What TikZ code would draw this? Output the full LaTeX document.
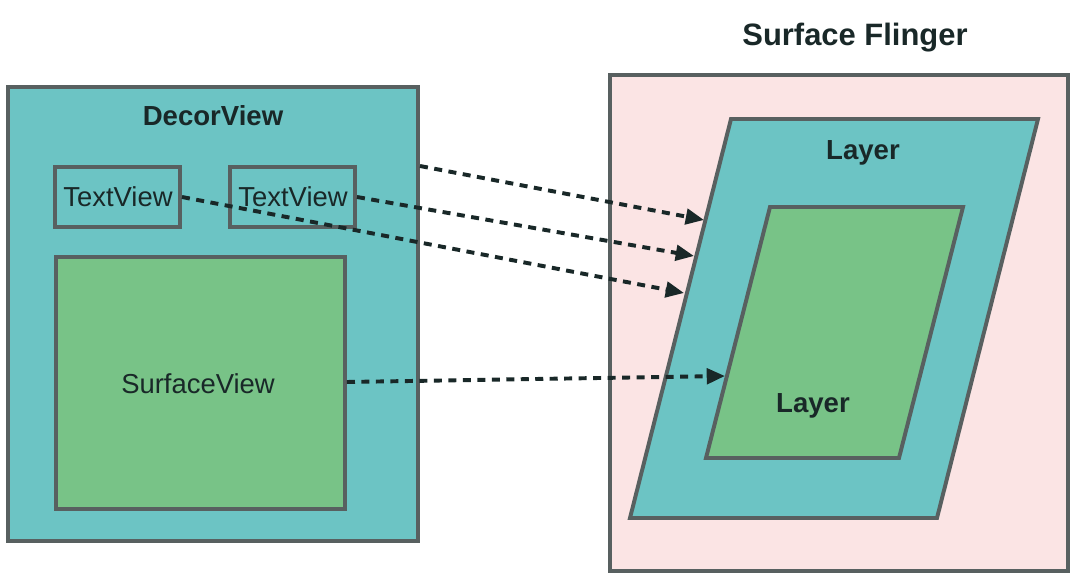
\documentclass[tikz,border=0pt]{standalone}
\usepackage{fontspec}
\setmainfont{Liberation Sans}
\usetikzlibrary{arrows.meta,fit}
\definecolor{teal1}{RGB}{108,196,196}
\definecolor{green1}{RGB}{120,195,135}
\definecolor{edge1}{RGB}{88,96,96}
\definecolor{pink1}{RGB}{251,228,228}
\definecolor{ink}{RGB}{25,40,40}
\tikzset{
  boxbase/.style={draw=edge1, line width=2.8pt, inner sep=0pt, text=ink},
  tealbox/.style={boxbase, fill=teal1},
  greenbox/.style={boxbase, fill=green1},
  pinkbox/.style={boxbase, fill=pink1},
  plain/.style={text=ink, font=\fontsize{19.5}{22}\selectfont},
  title/.style={text=ink, font=\bfseries\fontsize{19.6}{22}\selectfont},
  link/.style={draw=ink, line width=2.8pt, dash pattern=on 5.7pt off 4.6pt, -{Triangle[length=13pt,width=11pt]}}
}
\begin{document}
\begin{tikzpicture}[x=0.025cm,y=-0.025cm]
\useasboundingbox (0,0) rectangle (1080,577);
% left side
\node[tealbox, fit={(8,87)(418,541)}] (decor) {};
\node[title] (decortitle) at (213,116) {DecorView};
\node[tealbox, fit={(55,167)(180,227)}] (tv1) {};
\node[plain] (tv1t) at (118,197) {TextView};
\node[tealbox, fit={(230,167)(355,227)}] (tv2) {};
\node[plain] (tv2t) at (293,197) {TextView};
\node[greenbox, fit={(56,257)(345,509)}] (sv) {};
\node[plain] (svt) at (198,384) {SurfaceView};
% right side
\node[pinkbox, fit={(610,75)(1068,571)}] (sf) {};
\node[title, font=\bfseries\fontsize{22}{24}\selectfont] (sftitle) at (855,38) {Surface Flinger};
\draw[fill=teal1, draw=edge1, line width=2.8pt, line join=miter] (731,119) -- (1038,119) -- (937,518) -- (630,518) -- cycle;
\draw[fill=green1, draw=edge1, line width=2.8pt, line join=miter] (770,207) -- (963,207) -- (899,458) -- (706,458) -- cycle;
\node[title] (outerlayer) at (863,153) {Layer};
\node[title] (innerlayer) at (813,406) {Layer};
% connectors
\coordinate (s1) at (420,166);
\coordinate (e1) at (704,220);
\coordinate (e2) at (694,256);
\coordinate (e3) at (684,293);
\coordinate (e4) at (725,376);
\draw[link] (s1) -- (e1);
\draw[link] (tv2.east) -- (e2);
\draw[link] (tv1.east) -- (e3);
\draw[link] (sv.east |- 0,382) -- (e4);
\end{tikzpicture}
\end{document}
